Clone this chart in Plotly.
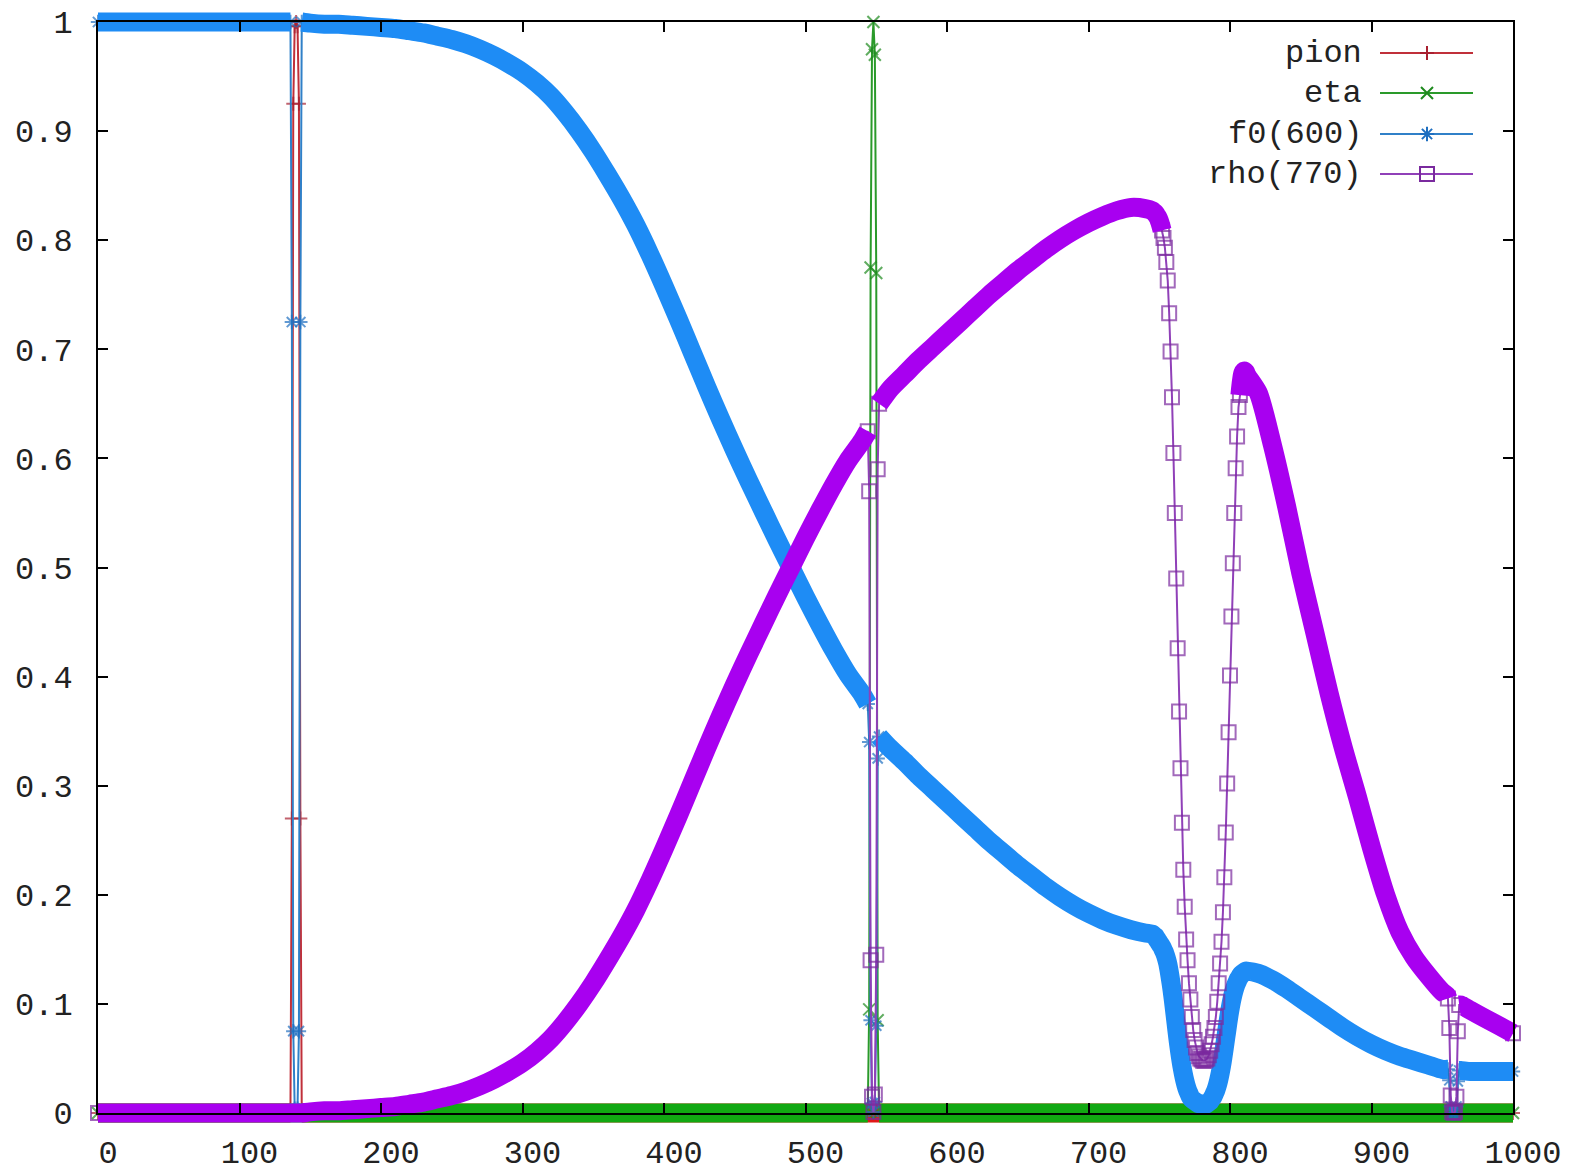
import plotly.graph_objects as go

# ---------------- data ----------------
energy = [0, 10, 20, 30, 40, 50, 60, 70, 80, 90, 100, 110, 120, 130,
          136, 137, 138, 139, 140, 141, 142, 143, 144,
          150, 160, 170, 180, 190, 200, 210, 220, 230, 240, 250, 260, 270, 280, 290,
          300, 310, 320, 330, 340, 350, 360, 370, 380, 390, 400, 410, 420, 430, 440,
          450, 460, 470, 480, 490, 500, 510, 520, 530, 540,
          544, 545, 546, 547, 548, 549, 550, 551, 552,
          560, 570, 580, 590, 600, 610, 620, 630, 640, 650, 660, 670, 680, 690, 700,
          710, 720, 730, 740,
          745, 746, 747, 748, 749, 750, 751, 752, 753, 754, 755, 756, 757, 758, 759,
          760, 761, 762, 763, 764, 765, 766, 767, 768, 769, 770, 771, 772, 773, 774,
          775, 776, 777, 778, 779, 780, 781, 782, 783, 784, 785, 786, 787, 788, 789,
          790, 791, 792, 793, 794, 795, 796, 797, 798, 799, 800, 801, 802, 803, 804,
          805, 806, 807, 808, 809, 810, 811, 812,
          820, 830, 840, 850, 860, 870, 880, 890, 900, 910, 920, 930, 940, 950,
          953, 954, 955, 956, 957, 958, 959, 960, 961, 962, 963,
          970, 980, 990, 1000]

rho = [0.0, 0.0, 0.0, 0.0, 0.0, 0.0, 0.0, 0.0, 0.0, 0.0, 0.0, 0.0, 0.0, 0.0,
       0.0, 0.0, 0.0, 0.0, 0.0, 0.0, 0.0, 0.0, 0.0,
       0.001, 0.002, 0.002, 0.003, 0.004, 0.005, 0.006, 0.008, 0.010, 0.013, 0.016,
       0.020, 0.025, 0.031, 0.038, 0.046, 0.056, 0.068, 0.083, 0.100, 0.119, 0.140,
       0.162, 0.186, 0.213, 0.242, 0.272, 0.303, 0.334, 0.364, 0.393, 0.421, 0.448,
       0.475, 0.501, 0.527, 0.552, 0.576, 0.598, 0.616,
       0.625, 0.570, 0.140, 0.015, 0.001, 0.017, 0.145, 0.590, 0.650,
       0.664, 0.677, 0.690, 0.702, 0.714, 0.726, 0.738, 0.750, 0.761, 0.772, 0.782,
       0.792, 0.801, 0.809, 0.816, 0.822, 0.827, 0.830, 0.829,
       0.827, 0.826, 0.825, 0.823, 0.821, 0.818, 0.814, 0.809, 0.802, 0.793, 0.780,
       0.763, 0.733, 0.698, 0.656, 0.605, 0.550, 0.490, 0.426, 0.368, 0.316, 0.266,
       0.223, 0.189, 0.159, 0.140, 0.119, 0.104, 0.088, 0.076, 0.067, 0.060, 0.055,
       0.052, 0.050, 0.049, 0.048, 0.048, 0.049, 0.050, 0.053, 0.057, 0.063, 0.070,
       0.078, 0.088, 0.102, 0.119, 0.137, 0.157, 0.184, 0.216, 0.257, 0.302, 0.349,
       0.401, 0.455, 0.504, 0.550, 0.591, 0.620, 0.647, 0.658, 0.670, 0.678, 0.680,
       0.679, 0.676,
       0.660, 0.612, 0.556, 0.495, 0.440, 0.385, 0.335, 0.290, 0.243, 0.200, 0.166,
       0.143, 0.126, 0.111,
       0.108, 0.105, 0.078, 0.016, 0.001, 0.000, 0.001, 0.015, 0.075, 0.099, 0.099,
       0.094, 0.087, 0.080, 0.073]

f0 = [1.0, 1.0, 1.0, 1.0, 1.0, 1.0, 1.0, 1.0, 1.0, 1.0, 1.0, 1.0, 1.0, 1.0,
      1.0, 0.725, 0.075, 0.004, 0.0, 0.004, 0.075, 0.725, 1.0,
      0.999, 0.998, 0.998, 0.997, 0.996, 0.995, 0.994, 0.992, 0.990, 0.987, 0.984,
      0.980, 0.975, 0.969, 0.962, 0.954, 0.944, 0.932, 0.917, 0.900, 0.881, 0.860,
      0.838, 0.814, 0.787, 0.758, 0.728, 0.697, 0.666, 0.636, 0.607, 0.579, 0.552,
      0.525, 0.499, 0.473, 0.448, 0.424, 0.402, 0.384,
      0.375, 0.340, 0.085, 0.009, 0.001, 0.010, 0.080, 0.325, 0.345,
      0.334, 0.322, 0.309, 0.297, 0.285, 0.273, 0.261, 0.249, 0.238, 0.227, 0.217,
      0.207, 0.198, 0.190, 0.183, 0.177, 0.172, 0.168, 0.165,
      0.164, 0.163, 0.162, 0.160, 0.158, 0.156, 0.154, 0.152, 0.149, 0.146, 0.142,
      0.137, 0.130, 0.122, 0.113, 0.103, 0.092, 0.081, 0.070, 0.060, 0.051, 0.043,
      0.036, 0.030, 0.025, 0.021, 0.018, 0.015, 0.013, 0.012, 0.011, 0.010, 0.009,
      0.009, 0.008, 0.008, 0.008, 0.008, 0.008, 0.009, 0.010, 0.011, 0.013, 0.015,
      0.018, 0.021, 0.025, 0.030, 0.036, 0.043, 0.051, 0.060, 0.069, 0.078, 0.087,
      0.095, 0.102, 0.108, 0.113, 0.117, 0.120, 0.123, 0.125, 0.127, 0.128, 0.129,
      0.130, 0.130,
      0.128, 0.122, 0.114, 0.105, 0.096, 0.087, 0.078, 0.070, 0.063, 0.057, 0.052,
      0.048, 0.044, 0.040,
      0.040, 0.040, 0.030, 0.006, 0.000, 0.000, 0.000, 0.006, 0.029, 0.039, 0.039,
      0.038, 0.038, 0.038, 0.038]

pion_energy = [0, 136, 137, 138, 139, 140, 141, 142, 143, 144, 1000]
pion = [0.0, 0.0, 0.27, 0.925, 0.996, 1.0, 0.996, 0.925, 0.27, 0.0, 0.0]

eta_energy = [0, 544, 545, 546, 547, 548, 549, 550, 551, 552, 1000]
eta = [0.0, 0.0, 0.095, 0.775, 0.975, 1.0, 0.97, 0.77, 0.085, 0.0, 0.0]

x_tick_vals = [0, 100, 200, 300, 400, 500, 600, 700, 800, 900, 1000]
x_tick_text = ["0", "100", "200", "300", "400", "500", "600", "700", "800", "900", "1000"]
y_tick_vals = [0, 0.1, 0.2, 0.3, 0.4, 0.5, 0.6, 0.7, 0.8, 0.9, 1]
y_tick_text = ["0", "0.1", "0.2", "0.3", "0.4", "0.5", "0.6", "0.7", "0.8", "0.9", "1"]

assert len(energy) == len(rho) == len(f0)

# ---------------- styling ----------------
FONT = "Liberation Mono"
FSIZE = 32
TXT = "#222222"
W, H = 1571, 1173
FL, FR, FT, FB = 98, 1513, 22, 1113     # frame box in pixels
PAD = 16
PW = FR - FL + 2 * PAD
PH = FB - FT + 2 * PAD
XMAX = x_tick_vals[-1]
BAND_W = 19

series = [
    dict(name="pion", x=pion_energy, y=pion, symbol="cross-thin-open", msize=10,
         band="#E01818", line="#C0303A", mark="#A82030",
         segs=[(0, 136), (144, 1000)]),
    dict(name="eta", x=eta_energy, y=eta, symbol="x-thin-open", msize=12,
         band="#12A812", line="#2A9A2A", mark="#1E8A1E",
         segs=[(0, 544), (552, 1000)]),
    dict(name="f0(600)", x=energy, y=f0, symbol="asterisk-open", msize=12,
         band="#1E8CF5", line="#3080C8", mark="#1F6FC0",
         segs=[(0, 136), (144, 544), (552, 954), (962, 1000)]),
    dict(name="rho(770)", x=energy, y=rho, symbol="square-open", msize=14,
         band="#A800F0", line="#9040B8", mark="#7A2A9E",
         segs=[(0, 544), (552, 752), (807, 954), (962, 1000)]),
]


def band_xy(xs, ys, segs):
    bx, by = [], []
    for lo, hi in segs:
        for xv, yv in zip(xs, ys):
            if lo <= xv <= hi:
                bx.append(xv)
                by.append(yv)
        bx.append(None)
        by.append(None)
    return bx, by


def marker_sizes(xs, segs, size):
    # points buried inside a dense band get no separate symbol
    return [0 if any(lo < xv < hi for lo, hi in segs) else size for xv in xs]


fig = go.Figure()
for s in series:
    fig.add_trace(go.Scatter(
        x=s["x"], y=s["y"], mode="lines+markers", cliponaxis=False,
        line=dict(color=s["line"], width=2),
        marker=dict(symbol=s["symbol"], size=marker_sizes(s["x"], s["segs"], s["msize"]),
                    line=dict(color=s["mark"], width=2), color=s["mark"]),
        showlegend=False, hoverinfo="skip", xaxis="x", yaxis="y"))
    bx, by = band_xy(s["x"], s["y"], s["segs"])
    fig.add_trace(go.Scatter(
        x=bx, y=by, mode="lines", connectgaps=False, cliponaxis=False,
        line=dict(color=s["band"], width=BAND_W, shape="spline", smoothing=0.7),
        showlegend=False, hoverinfo="skip", xaxis="x", yaxis="y"))


# ---- gnuplot-like key (text right-justified, sample on the right) ----
def fx(px):
    return (px - FL) / (FR - FL) * XMAX


def fy(py):
    return (FB - py) / (FB - FT)


key_rows = [53, 93, 134, 174]
annotations = []
for s, row in zip(series, key_rows):
    fig.add_trace(go.Scatter(
        x=[fx(1380), fx(1473)], y=[fy(row), fy(row)], mode="lines",
        line=dict(color=s["line"], width=2), cliponaxis=False,
        showlegend=False, hoverinfo="skip", xaxis="x2", yaxis="y2"))
    fig.add_trace(go.Scatter(
        x=[fx(1427)], y=[fy(row)], mode="markers", cliponaxis=False,
        marker=dict(symbol=s["symbol"], size=s["msize"],
                    line=dict(color=s["mark"], width=2), color=s["mark"]),
        showlegend=False, hoverinfo="skip", xaxis="x2", yaxis="y2"))
    annotations.append(dict(
        x=fx(1364), y=fy(row), xref="x2", yref="y2", text=s["name"],
        showarrow=False, xanchor="right", yanchor="middle",
        font=dict(family=FONT, size=FSIZE, color=TXT)))

common_frame = dict(showline=True, linecolor="black", linewidth=2, mirror="ticks",
                    ticks="inside", ticklen=10, tickwidth=2, tickcolor="black",
                    showgrid=False, zeroline=False, automargin=False,
                    tickfont=dict(family=FONT, size=FSIZE, color=TXT))

fig.update_layout(
    width=W, height=H,
    margin=dict(l=FL - PAD, r=W - (FR + PAD), t=FT - PAD, b=H - (FB + PAD), pad=0,
                autoexpand=False),
    paper_bgcolor="white", plot_bgcolor="rgba(0,0,0,0)",
    showlegend=False,
    xaxis=dict(domain=[0, 1], range=[-PAD * XMAX / (FR - FL), XMAX + PAD * XMAX / (FR - FL)],
               visible=False, fixedrange=True, automargin=False),
    yaxis=dict(domain=[0, 1], range=[-PAD / (FB - FT), 1 + PAD / (FB - FT)],
               visible=False, fixedrange=True, automargin=False),
    xaxis2=dict(domain=[PAD / PW, 1 - PAD / PW], anchor="y2", range=[0, XMAX],
                tickmode="array", tickvals=x_tick_vals, ticktext=x_tick_text,
                ticklabelshift=10, ticklabelstandoff=10, **common_frame),
    yaxis2=dict(domain=[PAD / PH, 1 - PAD / PH], anchor="x2", range=[0, 1],
                tickmode="array", tickvals=y_tick_vals, ticktext=y_tick_text,
                ticklabelstandoff=17, **common_frame),
    annotations=annotations,
)

fig.write_html("out.html")
